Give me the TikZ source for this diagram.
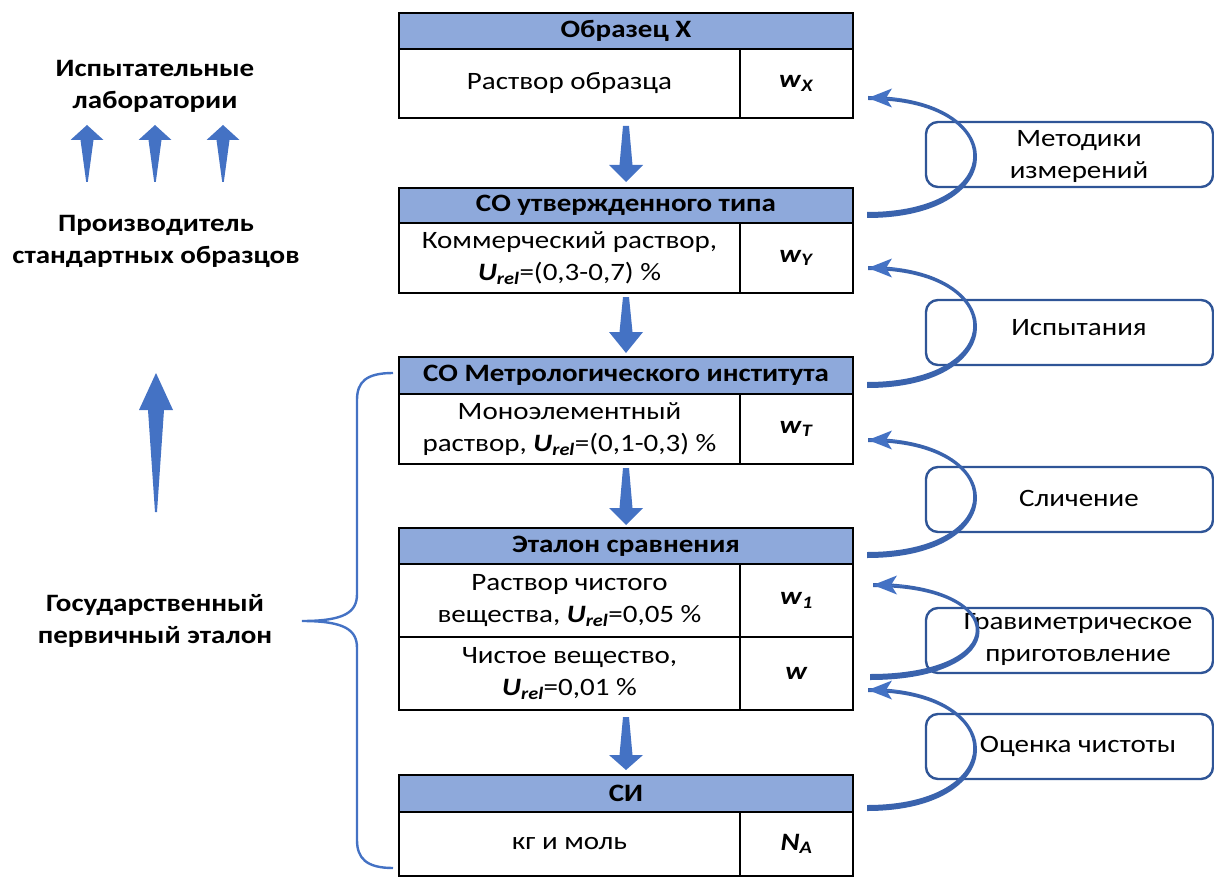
\documentclass[tikz,border=0pt]{standalone}
\usepackage{fontspec}
\setmainfont{Carlito}[FakeStretch=1.16]
\usetikzlibrary{arrows.meta}
\definecolor{hdr}{HTML}{8EA9DB}
\definecolor{arr}{HTML}{4472C4}
\definecolor{dkb}{HTML}{2F5597}
\colorlet{cv}{dkb!50!arr}
\newcommand{\wv}[1]{\textbf{\textit{w}}\textsubscript{\textbf{\textit{#1}}}}
\newcommand{\Urel}{\textbf{\textit{U}}\textsubscript{\textbf{\textit{rel}}}}
\newcommand{\fs}{\fontsize{25}{32}\selectfont}
% tapered body of a curved arrow: xs, y0 (start), xe, y1 (end), xc (control x)
\newcommand{\taperbody}[5]{%
  \fill[cv] (#1,#2+3) .. controls (#5+3,#2+3) and (#5+2,#4-2) .. (#3,#4-2)
    -- (#3,#4+2) .. controls (#5-2,#4+2) and (#5-3,#2-3) .. (#1,#2-3) -- cycle;}
\tikzset{
  cell/.style={draw=black, line width=2.6pt, inner sep=0pt, align=center, font=\fs},
  hdrcell/.style={cell, fill=hdr, font=\fs\bfseries, minimum width=454pt},
  lcell/.style={cell, minimum width=341pt},
  rcell/.style={cell, minimum width=113pt},
  sidebox/.style={draw=dkb, line width=2.4pt, rounded corners=12pt, minimum width=287pt, minimum height=65pt, inner sep=0pt},
  sidetext/.style={align=center, font=\fs, inner sep=0pt},
  lefttext/.style={align=center, font=\fs\bfseries, inner sep=0pt},
  tiponly/.style={draw=arr, line width=0.1pt, -{Stealth[length=24pt, width=19pt, inset=6pt, line width=0pt]}},
  blockarr/.style={fill=arr, draw=none},
  bracestyle/.style={draw=arr, line width=2.4pt}
}
\begin{document}
\begin{tikzpicture}[x=1pt, y=-1pt]
\useasboundingbox (0,0) rectangle (1214,877);

% ---- side boxes (behind curves)
\node[sidebox] (m1) at (1069.5,154.5) {};
\node[sidebox] (m2) at (1069.5,332.5) {};
\node[sidebox] (m3) at (1069.5,499.5) {};
\node[sidebox] (m4) at (1069.5,640.5) {};
\node[sidebox] (m5) at (1069.5,746.5) {};
\node[sidetext] (t1) at (1079,156) {Методики\\измерений};
\node[sidetext] (t2) at (1079,328) {Испытания};
\node[sidetext] (t3) at (1079,498) {Сличение};
\node[sidetext] (t4) at (1078,639) {Гравиметрическое\\приготовление};
\node[sidetext] (t5) at (1078,746) {Оценка чистоты};

% ---- box 1
\node[hdrcell, minimum height=36pt] (h1) at (626,31) {Образец X};
\node[lcell, minimum height=69pt] (l1) at (569.5,83.5) {Раствор образца};
\node[rcell, minimum height=69pt] (r1) at (796.5,83.5) {\wv{X}};
% ---- box 2
\node[hdrcell, minimum height=35pt] (h2) at (626,205.5) {СО утвержденного типа};
\node[lcell, minimum height=70pt] (l2) at (569.5,258) {Коммерческий раствор,\\\Urel=(0,3-0,7) \%};
\node[rcell, minimum height=70pt] (r2) at (796.5,258) {\wv{Y}};
% ---- box 3
\node[hdrcell, minimum height=37pt] (h3) at (626,375.5) {СО Метрологического института};
\node[lcell, minimum height=70pt] (l3) at (569.5,429) {Моноэлементный\\раствор, \Urel=(0,1-0,3) \%};
\node[rcell, minimum height=70pt] (r3) at (796.5,429) {\wv{T}};
% ---- box 4
\node[hdrcell, minimum height=36pt] (h4) at (626,546) {Эталон сравнения};
\node[lcell, minimum height=73pt] (l4a) at (569.5,600.5) {Раствор чистого\\вещества, \Urel=0,05 \%};
\node[rcell, minimum height=73pt] (r4a) at (796.5,600.5) {\wv{1}};
\node[lcell, minimum height=73pt] (l4b) at (569.5,673.5) {Чистое вещество,\\\Urel=0,01 \%};
\node[rcell, minimum height=73pt] (r4b) at (796.5,673.5) {\textbf{\textit{w}}};
% ---- box 5
\node[hdrcell, minimum height=37pt] (h5) at (626,793.5) {СИ};
\node[lcell, minimum height=64pt] (l5) at (569.5,844) {кг и моль};
\node[rcell, minimum height=64pt] (r5) at (796.5,844) {\textbf{\textit{N}}\textsubscript{\textbf{\textit{A}}}};

% ---- down block arrows between boxes
\foreach \t/\b/\p in {126/165/182, 297/332/353, 468/508/525, 717/755/770}{
  \fill[blockarr] (623,\t) -- (629,\t) -- (632.5,\b) -- (643,\b) -- (626,\p) -- (609,\b) -- (619.5,\b) -- cycle;
}

% ---- curved arrows: tapered bodies, then the heads
\taperbody{867}{215}{868}{98}{1011}
\taperbody{867}{385}{868}{268}{1011}
\taperbody{867}{555}{868}{440}{1011}
\taperbody{870}{677}{873}{585}{1013}
\taperbody{867}{808}{868}{690}{1011}
\coordinate (a1) at (900,98);  \coordinate (e1) at (868,98);
\coordinate (a2) at (900,268); \coordinate (e2) at (868,268);
\coordinate (a3) at (900,440); \coordinate (e3) at (868,440);
\coordinate (a4) at (905,585); \coordinate (e4) at (873,585);
\coordinate (a5) at (900,690); \coordinate (e5) at (868,690);
\draw[tiponly] (a1) -- (e1);
\draw[tiponly] (a2) -- (e2);
\draw[tiponly] (a3) -- (e3);
\draw[tiponly] (a4) -- (e4);
\draw[tiponly] (a5) -- (e5);

% ---- left texts
\node[lefttext] (lab) at (155,86) {Испытательные\\лаборатории};
\node[lefttext] (prod) at (156,241) {Производитель\\стандартных образцов};
\node[lefttext] (gos) at (155,621) {Государственный\\первичный эталон};

% small up arrows
\foreach \x in {87,155,223}{
  \fill[blockarr] (\x,125) -- (\x+16.5,140) -- (\x+6.5,140) -- (\x+0.8,182) -- (\x-0.8,182) -- (\x-6.5,140) -- (\x-16.5,140) -- cycle;
}
% big up arrow
\fill[blockarr] (156,373) -- (173,410) -- (164,410) -- (157,512) -- (155,512) -- (148,410) -- (139,410) -- cycle;

% brace
\draw[bracestyle] (393,373) .. controls (366,373) and (357,382) .. (357,400)
  -- (357,594) .. controls (357,612) and (345,621) .. (302,621)
  .. controls (345,621) and (357,630) .. (357,648)
  -- (357,840) .. controls (357,858) and (366,868) .. (393,868);
\end{tikzpicture}
\end{document}
